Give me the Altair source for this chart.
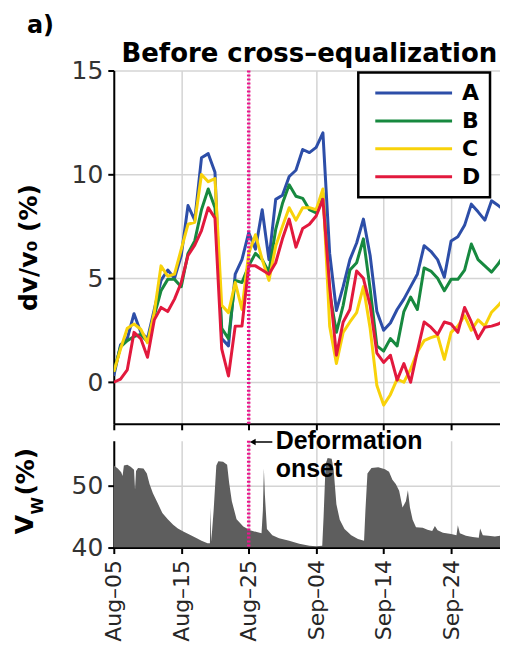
import altair as alt
import pandas as pd

# ---------------- data ----------------
series_names = ["A", "B", "C", "D"]
series_colors = ["#2d4ea8", "#17893f", "#f8d20a", "#e2193d"]
day_index = list(range(59))  # days after Aug-05

dv_A = [0.3, 1.8, 2.1, 3.3, 2.4, 2.1, 3.5, 4.9, 5.4, 5.0,
        6.1, 8.5, 7.8, 10.8, 11.0, 10.1, 2.1, 1.75, 5.2, 5.9,
        7.2, 6.4, 8.3, 5.9, 8.8, 9.0, 9.9, 10.2, 11.2, 11.05,
        11.3, 12.0, 6.2, 3.45, 4.6, 5.9, 6.7, 7.85, 6.1, 3.4,
        2.5, 2.85, 3.5, 4.0, 4.6, 5.2, 6.57, 6.3, 5.9, 5.05,
        6.8, 7.0, 7.55, 8.57, 8.2, 7.8, 8.73, 8.5, 8.25]
dv_B = [0.5, 1.7, 2.0, 2.2, 2.3, 1.95, 3.2, 4.4, 4.95, 4.95,
        4.6, 6.2, 6.8, 8.3, 9.3, 8.4, 2.6, 2.1, 4.9, 4.8,
        5.6, 6.2, 5.9, 5.3, 7.35, 8.6, 9.5, 8.95, 8.85, 8.3,
        8.15, 9.1, 4.3, 2.4, 3.7, 5.4, 5.75, 6.9, 4.5, 1.75,
        1.5, 2.1, 1.75, 3.4, 4.1, 3.5, 5.5, 5.35, 5.0, 4.4,
        4.95, 4.95, 5.4, 6.65, 5.9, 5.6, 5.3, 5.7, 6.2]
dv_C = [0.5, 1.6, 2.6, 2.8, 2.55, 1.9, 3.35, 5.6, 5.1, 5.2,
        6.4, 7.6, 7.7, 10.0, 9.65, 9.8, 3.7, 3.35, 4.8, 3.5,
        6.2, 7.1, 5.9, 4.9, 6.55, 7.5, 8.4, 7.8, 8.4, 8.4,
        8.3, 9.3, 2.7, 0.9, 2.4, 2.9, 3.35, 4.6, 2.6, -0.16,
        -1.1, -0.6, 0.15, 0.0, 0.63, 1.45, 2.0, 2.15, 2.25, 1.1,
        2.4, 2.7, 3.2, 2.5, 3.0, 2.7, 3.37, 3.7, 4.1]
dv_D = [0.0, 0.15, 0.6, 2.4, 2.1, 1.2, 3.0, 3.6, 3.4, 4.0,
        4.8, 6.1, 6.6, 7.3, 8.4, 7.9, 1.6, 0.3, 2.7, 2.7,
        5.6, 5.6, 5.4, 5.2, 5.75, 6.9, 7.85, 6.5, 7.4, 7.6,
        8.0, 8.8, 4.6, 1.3, 2.9, 3.5, 5.35, 5.0, 3.7, 1.4,
        0.95, 1.3, 0.1, 0.9, 0.0, 1.5, 2.9, 2.65, 2.3, 2.9,
        2.8, 2.4, 3.6, 2.9, 2.1, 2.65, 2.7, 2.8, 3.0]

vw_day = [0, 0.6, 1.1, 1.3, 1.5, 2.0, 2.5, 3.0, 3.15, 3.3, 3.6, 4.4, 4.9, 5.3, 5.8,
          6.5, 7.2, 8.0, 8.8, 9.5, 10.3, 11.2, 12.3, 13.0, 13.9, 14.25, 14.35, 14.45,
          14.8, 15.2, 15.5, 16.2, 16.8, 17.1, 17.5, 18.2, 19.2, 20.2, 21.2, 21.9, 22.1,
          22.25, 22.4, 22.7, 23.5, 24.5, 26.0, 27.5, 29.0, 30.0, 30.9, 31.1, 31.4, 31.7,
          32.3, 32.6, 33.0, 33.5, 34.2, 35.2, 36.2, 37.1, 37.3, 37.6, 38.2, 39.2, 40.2,
          40.8, 41.3, 41.8, 42.3, 42.8, 43.3, 43.6, 43.9, 44.3, 44.8, 45.8, 46.5, 47.2,
          47.6, 48.0, 48.8, 50.0, 50.8, 51.0, 51.3, 52.2, 53.2, 54.1, 54.3, 54.7, 55.5,
          56.5, 57.3, 58.3]
vw_val = [53.3, 52.8, 52.2, 51.6, 53.3, 53.4, 53.1, 52.6, 49.4, 52.4, 52.9, 52.8, 52.0,
          50.3, 48.8, 47.2, 45.6, 44.6, 43.7, 43.1, 42.6, 42.1, 41.5, 41.1, 40.7, 40.7,
          46.5, 41.0, 46.0, 53.3, 54.0, 53.9, 53.4, 50.5, 47.5, 44.6, 43.4, 42.8, 42.5,
          42.3, 46.0, 52.8, 48.5, 43.0, 42.0, 41.5, 41.1, 40.6, 40.3, 40.2, 40.3, 45.0,
          53.5, 54.5, 54.4, 52.5, 47.0, 44.5, 43.0, 42.0, 41.4, 41.1, 46.0, 52.0, 52.9,
          53.0, 52.7, 52.3, 51.0, 50.3, 49.2, 46.5, 47.5, 49.3, 46.5, 44.5, 43.3, 43.2,
          42.9, 42.7, 43.5, 42.8, 42.4, 42.2, 42.0, 43.6, 42.3, 41.9, 41.7, 41.6, 43.1,
          42.0, 41.9, 41.8, 41.9, 41.7]

onset_day = 20
tick_days = [0, 10, 20, 30, 40, 50]
note_text = ["Deformation", "onset"]
note_day = [24.0, 24.0]
note_val = [55.95, 51.45]
arrow_day = [23.5, 20.6]
arrow_val = [57.1, 57.1]
panel_label = "a)"
top_title = "Before cross–equalization"

# ---------------- build tables ----------------
start = pd.Timestamp("2019-08-05")


def to_date(d):
    return start + pd.Timedelta(hours=d * 24)


rows = []
for name, vals in zip(series_names, [dv_A, dv_B, dv_C, dv_D]):
    for d, v in zip(day_index, vals):
        rows.append({"date": to_date(d), "series": name, "dv": v})
dv_df = pd.DataFrame(rows)
vw_df = pd.DataFrame({"date": [to_date(d) for d in vw_day], "vw": vw_val})
onset_df = pd.DataFrame({"date": [to_date(onset_day)]})
note_df = pd.DataFrame({"date": [to_date(d) for d in note_day], "vw": note_val, "text": note_text})
arrow_df = pd.DataFrame({"date": [to_date(arrow_day[0])], "date2": [to_date(arrow_day[1])],
                         "vw": [arrow_val[0]]})
head_df = pd.DataFrame({"date": [to_date(arrow_day[1])], "vw": [arrow_val[1]]})
label_df = pd.DataFrame({"t": [panel_label]})
title_df = pd.DataFrame({"t": [top_title]})


def dt(d):
    t = to_date(d)
    return alt.DateTime(year=t.year, month=t.month, date=t.day, hours=t.hour)


x_domain = [dt(0), dt(57.25)]
tick_values = [dt(d) for d in tick_days]
x_scale = alt.Scale(domain=x_domain)

MAGENTA = "#ea168c"
GRID = "#d4d4d4"
W = 387
EXT = 42

axis_common = dict(domainColor="black", domainWidth=2, tickColor="black", tickWidth=2,
                   tickSize=6, gridColor=GRID, gridWidth=1.5)

# ---------------- top panel ----------------
lines = alt.Chart(dv_df).mark_line(strokeWidth=3, strokeJoin="round", clip=True).encode(
    x=alt.X("date:T", scale=x_scale,
            axis=alt.Axis(values=tick_values, labels=False, title=None, grid=True, **axis_common)),
    y=alt.Y("dv:Q", scale=alt.Scale(domain=[-2, 15], nice=False, zero=False),
            axis=alt.Axis(values=[0, 5, 10, 15], title="dv/v₀ (%)", titleFont="DejaVu Sans",
                          titleFontSize=25, titleFontWeight="bold", titleColor="black",
                          titlePadding=30, minExtent=EXT, maxExtent=EXT,
                          labelFont="DejaVu Sans", labelFontSize=25, labelColor="#333333",
                          labelPadding=5, **axis_common)),
    color=alt.Color("series:N", scale=alt.Scale(domain=series_names, range=series_colors),
                    legend=alt.Legend(title=None, orient="none", legendX=245, legendY=2,
                                      symbolType="M-4,0H4", symbolSize=370,
                                      symbolStrokeWidth=3, symbolOffset=35,
                                      labelOffset=37, labelFont="DejaVu Sans",
                                      labelFontSize=22, labelFontWeight="bold",
                                      labelColor="black", padding=9, rowPadding=5,
                                      strokeColor="black", fillColor="white")),
)

onset_top = alt.Chart(onset_df).mark_rule(color=MAGENTA, strokeWidth=3.5, strokeDash=[2, 2]).encode(
    x="date:T")

a_label = alt.Chart(label_df).mark_text(
    align="left", baseline="alphabetic", font="DejaVu Sans", fontSize=24, fontWeight="bold",
    color="black").encode(text="t:N", x=alt.value(-87), y=alt.value(-38))

title_txt = alt.Chart(title_df).mark_text(
    align="center", baseline="alphabetic", font="DejaVu Sans", fontSize=26, fontWeight="bold",
    color="black").encode(text="t:N", x=alt.value(196), y=alt.value(-9))

top = alt.layer(lines, onset_top, a_label, title_txt).properties(width=W, height=354)

# ---------------- bottom panel ----------------
area = alt.Chart(vw_df).mark_area(color="#5e5e5e", clip=True).encode(
    x=alt.X("date:T", scale=x_scale,
            axis=alt.Axis(values=tick_values, format="%b–%d", labelAngle=270,
                          labelFont="DejaVu Sans", labelFontSize=22, labelColor="#262626",
                          labelPadding=6, title=None, grid=True, **axis_common)),
    y=alt.Y("vw:Q", scale=alt.Scale(domain=[40, 57.3], nice=False, zero=False),
            axis=alt.Axis(values=[40, 50], title=None, minExtent=EXT, maxExtent=EXT,
                          labelFont="DejaVu Sans", labelFontSize=25, labelColor="#333333",
                          labelPadding=5, **axis_common)),
    y2=alt.datum(40),
)

onset_bot = alt.Chart(onset_df).mark_rule(color=MAGENTA, strokeWidth=3.5, strokeDash=[2, 2]).encode(
    x="date:T")

notes = alt.Chart(note_df).mark_text(align="left", baseline="alphabetic", font="Liberation Sans",
                                     fontSize=25, fontWeight="bold", color="black").encode(
    x="date:T", y="vw:Q", text="text:N")

arrow_line = alt.Chart(arrow_df).mark_rule(color="black", strokeWidth=1.5).encode(
    x="date:T", x2="date2:T", y="vw:Q")
arrow_head = alt.Chart(head_df).mark_point(shape="triangle-left", filled=True, color="black",
                                           size=45, opacity=1).encode(x="date:T", y="vw:Q")

vw_title = pd.DataFrame({"t": ["V", "W", "(%)"]})
t_V = alt.Chart(vw_title).transform_filter("datum.t == 'V'").mark_text(
    angle=270, font="DejaVu Sans", fontSize=25, fontWeight="bold", color="black",
    align="center", baseline="middle").encode(text="t:N", x=alt.value(-89), y=alt.value(84))
t_W = alt.Chart(vw_title).transform_filter("datum.t == 'W'").mark_text(
    angle=270, font="DejaVu Sans", fontSize=16, fontWeight="bold", color="black",
    align="center", baseline="middle").encode(text="t:N", x=alt.value(-76), y=alt.value(65))
t_P = alt.Chart(vw_title).transform_filter("datum.t == '(%)'").mark_text(
    angle=270, font="DejaVu Sans", fontSize=25, fontWeight="bold", color="black",
    align="center", baseline="middle").encode(text="t:N", x=alt.value(-88), y=alt.value(31))

bottom = alt.layer(area, onset_bot, notes, arrow_line, arrow_head, t_V, t_W, t_P).properties(
    width=W, height=107)

chart = alt.vconcat(top, bottom, spacing=17, bounds="flush").properties(
    padding={"left": 5, "top": 5, "right": 0, "bottom": 0},
).configure_view(stroke=None).configure_legend(strokeWidth=2.5)

chart.save("out.html", embed_options={"renderer": "svg", "actions": False})
